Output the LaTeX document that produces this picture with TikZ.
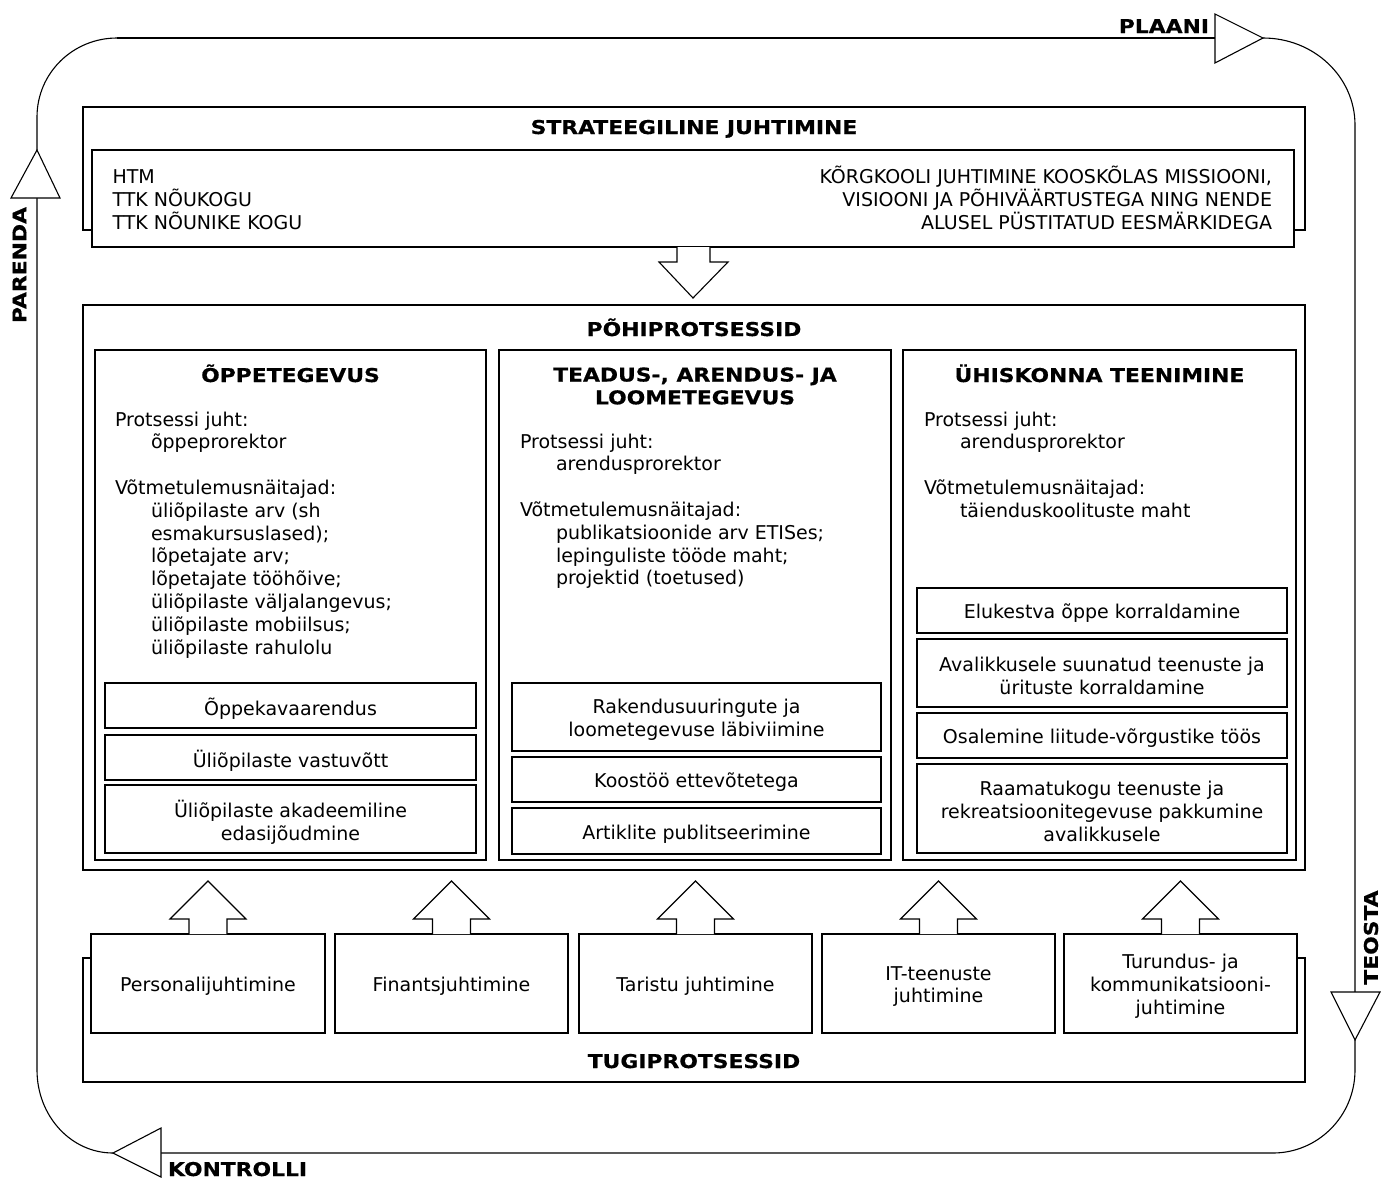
\documentclass[tikz,border=0pt]{standalone}
\usepackage{fontspec}
\setmainfont{DejaVu Sans}[BoldFeatures={FakeStretch=1.15,FakeBold=0.6}]
\usetikzlibrary{fit,calc}
\newcommand\tstrut{\rule{0pt}{10pt}}
\tikzset{
  txt/.style={inner sep=0pt, outer sep=0pt, font=\fontsize{9.5}{11.4}\selectfont},
  ttl/.style={inner sep=0pt, outer sep=0pt, font=\fontsize{9.5}{11.4}\selectfont\bfseries},
  frame/.style={draw, fill=white, inner sep=0pt, outer sep=0pt, fit={#1}},
  lbl/.style={txt, align=center, yshift=-1.5pt},
  blockarrow/.style={draw, fill=white, line join=miter},
  tri/.style={draw, fill=white, line join=miter},
}
\begin{document}
\begin{tikzpicture}[x=0.5pt, y=-0.5pt, line width=0.55pt]
\useasboundingbox (0,0) rectangle (1381,1178);

% ---------- PDCA loop ----------
\coordinate (pTL) at (117,38);
\coordinate (pA1) at (1215,38);
\coordinate (pA1tip) at (1263,38);
\coordinate (pR1) at (1355,125);
\coordinate (pA2) at (1355,992);
\coordinate (pA2tip) at (1355,1040);
\coordinate (pR2) at (1355,1070);
\coordinate (pB1) at (1273,1153);
\coordinate (pA3) at (161,1153);
\coordinate (pA3tip) at (113,1153);
\coordinate (pL1) at (37,1070);
\coordinate (pA4) at (37,198);
\coordinate (pA4tip) at (37,150);
\coordinate (pL2) at (37,117);

\draw (pTL) -- (pA1);
\draw[tri] (1215,14) -- (pA1tip) -- (1215,63) -- cycle;
\draw (pA1tip) .. controls (1314,38) and (1355,77) .. (pR1) -- (pA2);
\draw[tri] (1331,992) -- (1380,992) -- (pA2tip) -- cycle;
\draw (pA2tip) -- (pR2) .. controls (1355,1116) and (1318,1153) .. (pB1) -- (pA3);
\draw[tri] (161,1128) -- (161,1177) -- (pA3tip) -- cycle;
\draw (pA3tip) .. controls (71,1153) and (37,1116) .. (pL1) -- (pA4);
\draw[tri] (11,198) -- (60,198) -- (pA4tip) -- cycle;
\draw (pA4tip) -- (pL2) .. controls (37,73) and (73,38) .. (pTL);

\node[ttl, anchor=base east] (plaani) at (1209,33) {PLAANI};
\node[ttl, rotate=90] (teosta) at (1371,937.5) {TEOSTA};
\node[ttl, anchor=base west] (kontrolli) at (168,1176) {KONTROLLI};
\node[ttl, rotate=90] (parenda) at (19.5,265) {PARENDA};

% ---------- Strategic management ----------
\node[frame={(83,107)(1305,230)}] (strat) {};
\node[ttl, anchor=base] (strattitle) at (694,134) {STRATEEGILINE JUHTIMINE};
\node[frame={(92,150)(1294,247)}] (stratin) {};
\node[txt, anchor=north west, align=left] (stratL) at (112.5,163.5)
  {\tstrut HTM\\TTK NÕUKOGU\\TTK NÕUNIKE KOGU};
\node[txt, anchor=north east, align=right] (stratR) at (1272,163.5)
  {\tstrut KÕRGKOOLI JUHTIMINE KOOSKÕLAS MISSIOONI,\\VISIOONI JA PÕHIVÄÄRTUSTEGA NING NENDE\\ALUSEL PÜSTITATUD EESMÄRKIDEGA};

% ---------- Core processes ----------
\node[frame={(83,305)(1305,870)}] (main) {};
\node[ttl, anchor=base] (maintitle) at (694,336) {PÕHIPROTSESSID};

\draw[blockarrow] ($(stratin.south)+(-16,0)$) -- ++(0,15) -- ++(-18,0)
  -- ($(stratin.south)+(0,51)$) -- ($(stratin.south)+(35,15)$) -- ++(-18,0) -- ++(0,-15);

\node[frame={(95,350)(486,860)}] (col1) {};
\node[frame={(499,350)(891,860)}] (col2) {};
\node[frame={(903,350)(1296,860)}] (col3) {};

\node[ttl, anchor=base] (t1) at (290.5,382) {ÕPPETEGEVUS};
\node[ttl, align=center] (t2) at (695,386) {TEADUS-, ARENDUS- JA\\LOOMETEGEVUS};
\node[ttl, anchor=base] (t3) at (1099.5,382) {ÜHISKONNA TEENIMINE};

\node[txt, anchor=north west, align=left] (c1txt) at (115,406)
  {\tstrut Protsessi juht:\\
   \hspace*{18pt}õppeprorektor\\[11.4pt]
   Võtmetulemusnäitajad:\\
   \hspace*{18pt}üliõpilaste arv (sh\\
   \hspace*{18pt}esmakursuslased);\\
   \hspace*{18pt}lõpetajate arv;\\
   \hspace*{18pt}lõpetajate tööhõive;\\
   \hspace*{18pt}üliõpilaste väljalangevus;\\
   \hspace*{18pt}üliõpilaste mobiilsus;\\
   \hspace*{18pt}üliõpilaste rahulolu};

\node[txt, anchor=north west, align=left] (c2txt) at (520,428)
  {\tstrut Protsessi juht:\\
   \hspace*{18pt}arendusprorektor\\[11.4pt]
   Võtmetulemusnäitajad:\\
   \hspace*{18pt}publikatsioonide arv ETISes;\\
   \hspace*{18pt}lepinguliste tööde maht;\\
   \hspace*{18pt}projektid (toetused)};

\node[txt, anchor=north west, align=left] (c3txt) at (924,406)
  {\tstrut Protsessi juht:\\
   \hspace*{18pt}arendusprorektor\\[11.4pt]
   Võtmetulemusnäitajad:\\
   \hspace*{18pt}täienduskoolituste maht};

\node[frame={(105,683)(476,728)}] (b11) {};
\node[lbl] (b11t) at (b11.center) {Õppekavaarendus};
\node[frame={(105,735)(476,780)}] (b12) {};
\node[lbl] (b12t) at (b12.center) {Üliõpilaste vastuvõtt};
\node[frame={(105,785)(476,853)}] (b13) {};
\node[lbl] (b13t) at (b13.center) {Üliõpilaste akadeemiline\\edasijõudmine};

\node[frame={(512,683)(881,751)}] (b21) {};
\node[lbl] (b21t) at (b21.center) {Rakendusuuringute ja\\loometegevuse läbiviimine};
\node[frame={(512,757)(881,802)}] (b22) {};
\node[lbl] (b22t) at (b22.center) {Koostöö ettevõtetega};
\node[frame={(512,808)(881,854)}] (b23) {};
\node[lbl] (b23t) at (b23.center) {Artiklite publitseerimine};

\node[frame={(917,588)(1287,633)}] (b31) {};
\node[lbl] (b31t) at (b31.center) {Elukestva õppe korraldamine};
\node[frame={(917,639)(1287,707)}] (b32) {};
\node[lbl] (b32t) at (b32.center) {Avalikkusele suunatud teenuste ja\\ürituste korraldamine};
\node[frame={(917,713)(1287,758)}] (b33) {};
\node[lbl] (b33t) at (b33.center) {Osalemine liitude-võrgustike töös};
\node[frame={(917,764)(1287,853)}] (b34) {};
\node[lbl] (b34t) at (b34.center) {Raamatukogu teenuste ja\\rekreatsioonitegevuse pakkumine\\avalikkusele};

% ---------- Support processes ----------
\draw (91,958) -- (83,958) -- (83,1082) -- (1305,1082) -- (1305,958) -- (1297,958);
\node[ttl, anchor=base] (suptitle) at (694,1068) {TUGIPROTSESSID};

\node[frame={(91,934)(325,1033)}] (s1) {};
\node[lbl] (s1t) at (s1.center) {Personalijuhtimine};
\node[frame={(335,934)(568,1033)}] (s2) {};
\node[lbl] (s2t) at (s2.center) {Finantsjuhtimine};
\node[frame={(579,934)(812,1033)}] (s3) {};
\node[lbl] (s3t) at (s3.center) {Taristu juhtimine};
\node[frame={(822,934)(1055,1033)}] (s4) {};
\node[lbl] (s4t) at (s4.center) {IT-teenuste\\juhtimine};
\node[frame={(1064,934)(1297,1033)}] (s5) {};
\node[lbl] (s5t) at (s5.center) {Turundus- ja\\kommunikatsiooni-\\juhtimine};

\foreach \s in {s1,s2,s3,s4,s5}{
  \draw[blockarrow] ($(\s.north)+(-19,0)$) -- ++(0,-15) -- ++(-19,0)
    -- ($(\s.north)+(0,-53)$) -- ($(\s.north)+(38,-15)$) -- ++(-19,0) -- ++(0,15);
}
\end{tikzpicture}
\end{document}
